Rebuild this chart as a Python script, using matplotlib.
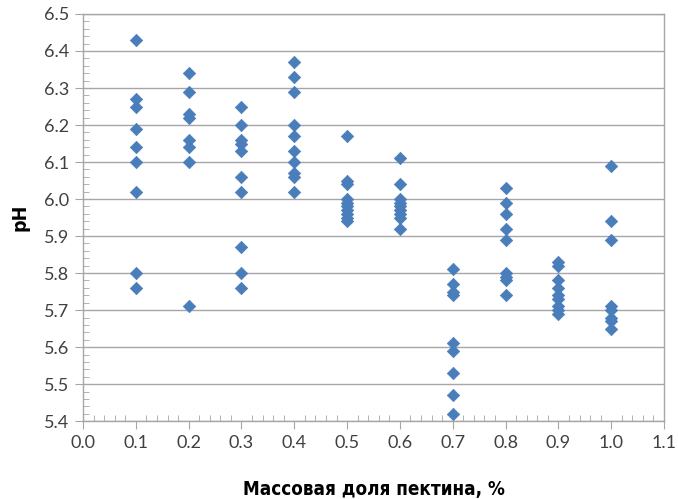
import matplotlib

matplotlib.use("Agg")
import matplotlib.pyplot as plt
from matplotlib.ticker import MultipleLocator

# pH readings per pectin mass fraction
fractions = [0.1, 0.2, 0.3, 0.4, 0.5, 0.6, 0.7, 0.8, 0.9, 1.0]
ph_01 = [6.43, 6.27, 6.25, 6.19, 6.14, 6.10, 6.02, 5.80, 5.76]
ph_02 = [6.34, 6.29, 6.23, 6.22, 6.16, 6.14, 6.10, 5.71]
ph_03 = [6.25, 6.20, 6.16, 6.15, 6.13, 6.06, 6.02, 5.87, 5.80, 5.76]
ph_04 = [6.37, 6.33, 6.29, 6.20, 6.17, 6.13, 6.10, 6.07, 6.06, 6.02]
ph_05 = [6.17, 6.05, 6.04, 6.00, 5.99, 5.98, 5.97, 5.96, 5.95, 5.94]
ph_06 = [6.11, 6.04, 6.00, 5.99, 5.98, 5.97, 5.96, 5.95, 5.92]
ph_07 = [5.81, 5.77, 5.75, 5.74, 5.61, 5.59, 5.53, 5.47, 5.42]
ph_08 = [6.03, 5.99, 5.96, 5.92, 5.89, 5.80, 5.79, 5.78, 5.74]
ph_09 = [5.83, 5.82, 5.78, 5.76, 5.74, 5.73, 5.71, 5.70, 5.69]
ph_10 = [6.09, 5.94, 5.89, 5.71, 5.70, 5.68, 5.67, 5.65]
ph_values = [ph_01, ph_02, ph_03, ph_04, ph_05, ph_06, ph_07, ph_08, ph_09, ph_10]

x_ticks = [round(0.1 * i, 1) for i in range(12)]
y_ticks = [round(5.4 + 0.1 * i, 1) for i in range(12)]

xs = [f for f, vals in zip(fractions, ph_values) for _ in vals]
ys = [v for vals in ph_values for v in vals]

grid_color = "#a6a6a6"
label_color = "#404040"
tick_font = ["Lato", "DejaVu Sans"]
title_font = ["Liberation Sans Narrow", "DejaVu Sans"]

fig = plt.figure(figsize=(6.78, 4.99), dpi=100)
ax = fig.add_axes([0.1224, 0.156, 0.857, 0.816])

ax.scatter(xs, ys, marker="D", s=40, color="#4a7ebb", edgecolors="#4a7ebb",
           linewidths=0.5, zorder=3, clip_on=False)

ax.set_xlim(0.0, 1.1)
ax.set_ylim(5.4, 6.5)
ax.set_xticks(x_ticks)
ax.set_yticks(y_ticks)
ax.set_xticklabels([f"{t:.1f}" for t in x_ticks], family=tick_font)
ax.set_yticklabels([f"{t:.1f}" for t in y_ticks], family=tick_font)
ax.xaxis.set_minor_locator(MultipleLocator(0.02))
ax.yaxis.set_minor_locator(MultipleLocator(0.02))

ax.grid(axis="y", which="major", color=grid_color, linewidth=1.0, zorder=0)
ax.set_axisbelow(True)

for side in ("left", "bottom", "right", "top"):
    ax.spines[side].set_color(grid_color)
    ax.spines[side].set_linewidth(1.0)

ax.tick_params(axis="both", which="major", direction="out", length=6,
               color=grid_color, labelsize=13, labelcolor=label_color, pad=4)
ax.tick_params(axis="both", which="minor", direction="in", length=4,
               color=grid_color)

ax.set_xlabel("Массовая доля пектина, %", fontsize=13.5, fontweight="bold",
              family=title_font, fontstretch="condensed", labelpad=21)
ax.set_ylabel("pH", fontsize=14, fontweight="bold",
              family=title_font, fontstretch="condensed", labelpad=10)

fig.savefig("out.png", dpi=100)
